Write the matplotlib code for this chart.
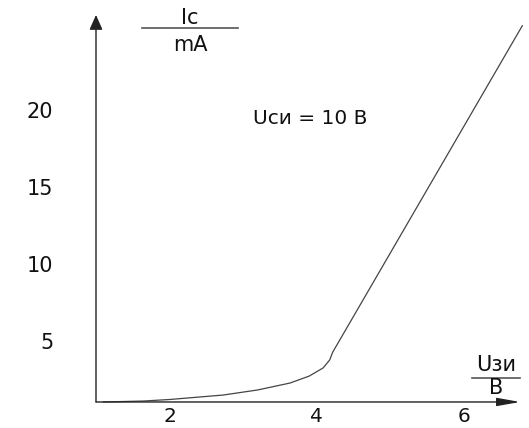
import matplotlib
matplotlib.use("Agg")
import matplotlib.pyplot as plt

plt.rcParams['font.family'] = ['DejaVu Sans']

# Data (U_зи in V, I_c in mA)
u_zi = [1.10, 1.64, 2.00, 2.73, 3.20, 3.64, 3.90, 4.09, 4.18, 4.22, 6.80]
i_c = [1.17, 1.23, 1.33, 1.62, 1.95, 2.40, 2.85, 3.38, 3.90, 4.40, 25.6]

x_ticks = [2, 4, 6]
y_ticks = [5, 10, 15, 20]

x_origin = 1.0
y_origin = 1.17
x_end = 6.77
y_end = 26.3

fig = plt.figure(figsize=(5.29, 4.28), dpi=100)
ax = fig.add_axes([0, 0, 1, 1])
ax.set_xlim(-0.306, 6.891)
ax.set_ylim(-0.52, 27.27)
ax.axis('off')

axis_color = '#555555'
# x axis with arrow
ax.annotate('', xy=(x_end, y_origin), xytext=(x_origin, y_origin),
            arrowprops=dict(arrowstyle='-|>,head_length=1.4,head_width=0.25',
                            color='#222222', lw=1.0, shrinkA=0, shrinkB=0))
# y axis with arrow
ax.annotate('', xy=(x_origin, y_end), xytext=(x_origin, y_origin),
            arrowprops=dict(arrowstyle='-|>,head_length=0.9,head_width=0.4',
                            color='#222222', lw=1.0, shrinkA=0, shrinkB=0))

ax.plot(u_zi, i_c, color='#444444', lw=0.9)

fs = 15
for t in x_ticks:
    ax.text(t, 0.22, str(t), ha='center', va='center', fontsize=14.5, color='#111111')
for t in y_ticks:
    ax.text(0.42, t, str(t), ha='right', va='center', fontsize=fs, color='#111111')

# y label fraction Ic / mA
ax.text(2.28, 25.7, 'Ic', ha='center', va='baseline', fontsize=fs, color='#111111')
ax.plot([1.62, 2.93], [25.45, 25.45], color=axis_color, lw=1.2)
ax.text(2.28, 24.35, 'mA', ha='center', va='center', fontsize=fs, color='#111111')

# x label fraction Uзи / B
ax.text(6.44, 3.6, 'Uзи', ha='center', va='center', fontsize=fs, color='#111111')
ax.plot([6.11, 6.77], [2.73, 2.73], color=axis_color, lw=1.2)
ax.text(6.44, 2.05, 'B', ha='center', va='center', fontsize=fs, color='#111111')

ax.text(3.14, 19.6, 'Uси = 10 B', ha='left', va='center', fontsize=14.5, color='#111111')

fig.savefig('out.png', dpi=100)
